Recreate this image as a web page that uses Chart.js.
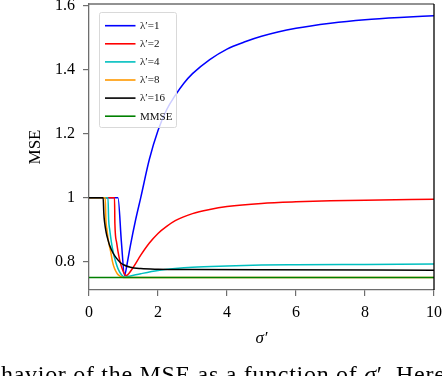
<!DOCTYPE html>
<html><head><meta charset="utf-8">
<script src="https://cdn.jsdelivr.net/npm/chart.js@4"></script>
<style>
html,body{margin:0;padding:0;background:#fff;overflow:hidden}
#wrap{position:relative;width:442px;height:376px;overflow:hidden}
canvas{position:absolute;left:0;top:0}
#cap{position:absolute;left:-23px;top:362px;font-family:"Liberation Serif",serif;font-size:24px;line-height:24px;letter-spacing:0.7px;white-space:nowrap;color:#000}
</style></head><body>
<div id="wrap"><canvas id="c" width="442" height="376"></canvas><div id="cap">behavior of the MSE as a function of <i>σ</i>′. Here</div></div>
<script>
// ---- data ----
const seriesLabels = ["λ′=1", "λ′=2", "λ′=4", "λ′=8", "λ′=16", "MMSE"];
const seriesColors = ["#0000ff", "#ff0000", "#00bfbf", "#ff9900", "#000000", "#008000"];

const sigma1 = [0, 0.84, 0.94, 1.03, 1.1, 1.2, 1.35, 1.5, 1.75, 2.0, 2.25, 2.5, 2.75, 3.0, 3.5, 4.0, 4.5, 5.0, 6.0, 7.0, 8.0, 9.0, 10];
const mse1   = [1, 1, 0.86, 0.757, 0.79, 0.85, 0.93, 1.0, 1.12, 1.21, 1.275, 1.32, 1.358, 1.388, 1.432, 1.465, 1.487, 1.505, 1.53, 1.546, 1.557, 1.564, 1.569];

const sigma2 = [0, 0.74, 0.75, 0.8, 0.84, 0.9, 0.96, 1.02, 1.08, 1.15, 1.3, 1.5, 1.75, 2.0, 2.25, 2.5, 3.0, 3.5, 4.0, 5.0, 6.0, 7.0, 8.0, 10];
const mse2   = [1, 1, 0.92, 0.86, 0.832, 0.80, 0.778, 0.762, 0.756, 0.762, 0.785, 0.82, 0.858, 0.888, 0.91, 0.928, 0.95, 0.963, 0.972, 0.982, 0.987, 0.99, 0.992, 0.995];

const sigma4 = [0, 0.55, 0.57, 0.6, 0.65, 0.7, 0.77, 0.84, 0.92, 0.99, 1.05, 1.2, 1.5, 2.0, 2.5, 3.0, 4.0, 5.0, 6.0, 8.0, 10];
const mse4   = [1, 1, 0.93, 0.90, 0.86, 0.83, 0.80, 0.778, 0.762, 0.754, 0.752, 0.755, 0.762, 0.772, 0.778, 0.782, 0.786, 0.789, 0.79, 0.791, 0.792];

const sigma8 = [0, 0.47, 0.49, 0.52, 0.57, 0.63, 0.68, 0.74, 0.82, 0.89, 0.97, 1.05, 2.0, 4.0, 10];
const mse8   = [1, 1, 0.93, 0.90, 0.86, 0.83, 0.80, 0.778, 0.762, 0.755, 0.751, 0.75, 0.75, 0.75, 0.75];

const sigma16 = [0, 0.41, 0.43, 0.45, 0.5, 0.55, 0.6, 0.7, 0.8, 0.9, 1.0, 1.2, 1.5, 2.0, 3.0, 5.0, 10];
const mse16   = [1, 1, 0.95, 0.925, 0.89, 0.868, 0.85, 0.826, 0.81, 0.798, 0.79, 0.782, 0.778, 0.776, 0.775, 0.774, 0.773];

const sigmaMMSE = [0, 10];
const mseMMSE   = [0.75, 0.75];

const xTicks = [0, 2, 4, 6, 8, 10];
const xTickLabels = ["0", "2", "4", "6", "8", "10"];
const yTicks = [0.8, 1.0, 1.2, 1.4, 1.6];
const yTickLabels = ["0.8", "1", "1.2", "1.4", "1.6"];

// ---- chart ----
const serif = '"Liberation Serif", "Times New Roman", serif';
const xs = [sigma1, sigma2, sigma4, sigma8, sigma16, sigmaMMSE];
const ys = [mse1, mse2, mse4, mse8, mse16, mseMMSE];
const orders = [5, 4, 3, 2, 1, 0];

const datasets = xs.map((sx, k) => ({
  label: seriesLabels[k],
  data: sx.map((x, i) => ({x: x, y: ys[k][i]})),
  borderColor: seriesColors[k],
  backgroundColor: seriesColors[k],
  borderWidth: 1.5,
  pointRadius: 0,
  tension: 0,
  cubicInterpolationMode: 'monotone',
  fill: false,
  order: orders[k]
}));

const boxLegend = {
  id: 'boxLegend',
  afterDatasetsDraw(chart) {
    const ctx = chart.ctx;
    ctx.save();
    const x0 = 99.5, y0 = 12.5, w = 77, h = 115, r = 2;
    ctx.beginPath();
    ctx.moveTo(x0 + r, y0);
    ctx.lineTo(x0 + w - r, y0); ctx.quadraticCurveTo(x0 + w, y0, x0 + w, y0 + r);
    ctx.lineTo(x0 + w, y0 + h - r); ctx.quadraticCurveTo(x0 + w, y0 + h, x0 + w - r, y0 + h);
    ctx.lineTo(x0 + r, y0 + h); ctx.quadraticCurveTo(x0, y0 + h, x0, y0 + h - r);
    ctx.lineTo(x0, y0 + r); ctx.quadraticCurveTo(x0, y0, x0 + r, y0);
    ctx.closePath();
    ctx.fillStyle = 'rgba(255,255,255,0.8)';
    ctx.fill();
    ctx.strokeStyle = '#d9d9d9';
    ctx.lineWidth = 1;
    ctx.stroke();
    seriesLabels.forEach((lab, i) => {
      const y = 25.7 + i * 18.1;
      ctx.beginPath();
      ctx.moveTo(105, y); ctx.lineTo(135.5, y);
      ctx.strokeStyle = seriesColors[i];
      ctx.lineWidth = 1.6;
      ctx.stroke();
      ctx.fillStyle = '#111';
      ctx.font = '11px ' + serif;
      ctx.textBaseline = 'middle';
      ctx.textAlign = 'left';
      ctx.fillText(lab, 140, y + 0.5);
    });
    ctx.restore();
  }
};

const frame = {
  id: 'frame',
  afterDraw(chart) {
    const {left, right, top, bottom} = chart.chartArea;
    const ctx = chart.ctx;
    ctx.save();
    ctx.lineWidth = 1.3;
    ctx.strokeStyle = '#6e6e6e';
    ctx.beginPath(); ctx.moveTo(left, top); ctx.lineTo(right, top); ctx.stroke();
    ctx.strokeStyle = '#000';
    ctx.beginPath(); ctx.moveTo(right, top); ctx.lineTo(right, bottom); ctx.stroke();
    ctx.restore();
  }
};

new Chart(document.getElementById('c'), {
  type: 'line',
  data: {datasets},
  plugins: [boxLegend, frame],
  options: {
    responsive: false,
    animation: false,
    events: [],
    layout: {padding: {left: 0, right: 8, top: 4, bottom: 0}},
    plugins: {legend: {display: false}, tooltip: {enabled: false}},
    scales: {
      x: {
        type: 'linear', min: 0, max: 10,
        afterBuildTicks(s) { s.ticks = xTicks.map(v => ({value: v})); },
        ticks: {
          callback: (v) => xTickLabels[xTicks.indexOf(v)],
          font: {family: serif, size: 16}, color: '#000', padding: 7, maxRotation: 0, autoSkip: false
        },
        grid: {display: true, drawOnChartArea: false, tickLength: 6, color: '#6e6e6e', lineWidth: 1.2},
        border: {display: true, color: '#6e6e6e', width: 1.3},
        title: {display: true, text: 'σ′', font: {family: serif, size: 17, style: 'italic'}, color: '#000', padding: {top: 0, bottom: 27}},
        afterFit(s) { s.height = 86; s.paddingLeft = 0; s.paddingRight = 0; }
      },
      y: {
        type: 'linear', min: 0.711, max: 1.606,
        afterBuildTicks(s) { s.ticks = yTicks.map(v => ({value: v})); },
        ticks: {
          callback: (v) => yTickLabels[yTicks.findIndex(t => Math.abs(t - v) < 1e-9)],
          font: {family: serif, size: 16}, color: '#000', padding: 8, autoSkip: false
        },
        grid: {display: true, drawOnChartArea: false, tickLength: 6, color: '#6e6e6e', lineWidth: 1.2},
        border: {display: true, color: '#6e6e6e', width: 1.3},
        title: {display: true, text: 'MSE', font: {family: serif, size: 17}, color: '#000', padding: {top: 25, bottom: 0}},
        afterFit(s) { s.width = 89; s.paddingTop = 0; s.paddingBottom = 0; }
      }
    }
  }
});
</script>
</body></html>
